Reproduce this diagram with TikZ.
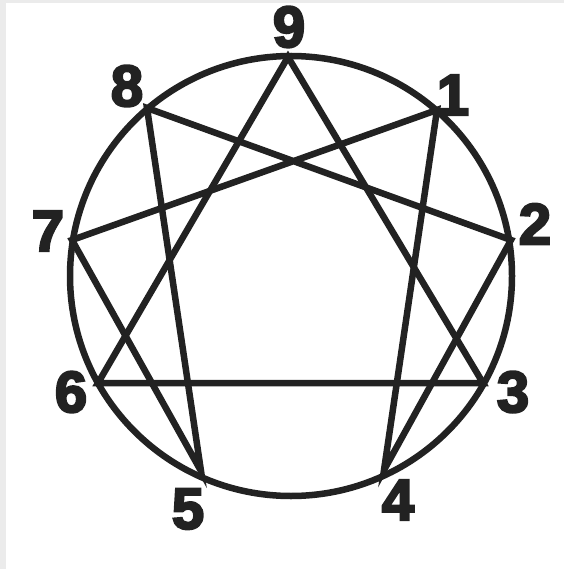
\documentclass[tikz,border=0pt]{standalone}
\usepackage{fontspec}
\setmainfont{Liberation Sans}
\newfontfamily\digitfont{Liberation Sans Bold}[FakeBold=4]
\begin{document}
\begin{tikzpicture}[x=1pt,y=-1pt,
  ink/.style={line width=6.5pt,draw=inkc,line join=miter,line cap=round},
  lbl/.style={inner sep=0pt,text=inkc,font=\digitfont\fontsize{58}{58}\selectfont}]
\definecolor{inkc}{HTML}{222222}
\definecolor{edge}{HTML}{EBEBEB}
\fill[edge] (0,0) rectangle (564,569);
\fill[white] (6,3) rectangle (564,569);
\useasboundingbox (0,0) rectangle (564,569);
\draw[ink] (291,276) ellipse [x radius=221, y radius=220];
\coordinate (p9) at (288,57);
\coordinate (p1) at (437,110);
\coordinate (p2) at (511,240);
\coordinate (p3) at (483,383);
\coordinate (p4) at (384,470);
\coordinate (p5) at (201,471);
\coordinate (p6) at (98,383);
\coordinate (p7) at (72,240);
\coordinate (p8) at (147,108);
\draw[ink] (p1) -- (p4) -- (p2) -- (p8) -- (p5) -- (p7) -- cycle;
\draw[ink] (p9) -- (p3) -- (p6) -- cycle;
\node[lbl] (l9) at (289,27) {9};
\node[lbl] (l1) at (453,95) {1};
\node[lbl] (l2) at (535,224) {2};
\node[lbl] (l3) at (513,392) {3};
\node[lbl] (l4) at (398,500) {4};
\node[lbl] (l5) at (188,509) {5};
\node[lbl] (l6) at (71,392) {6};
\node[lbl] (l7) at (48,231) {7};
\node[lbl] (l8) at (127,86) {8};
\end{tikzpicture}
\end{document}
